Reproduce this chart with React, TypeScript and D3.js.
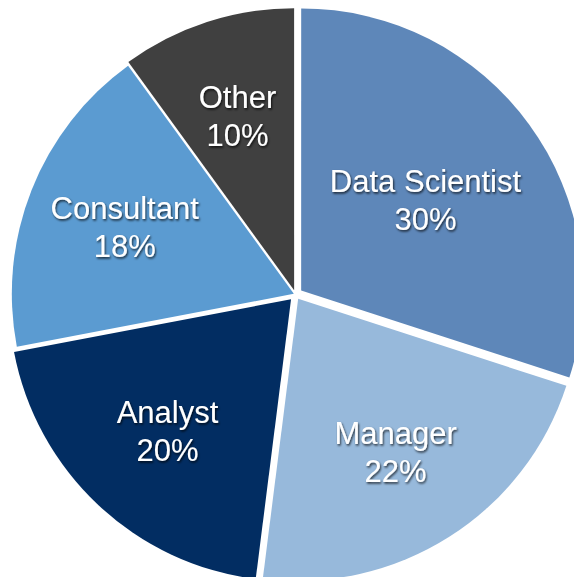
import React from "react";
import * as d3 from "d3";

const categories = ["Data Scientist", "Manager", "Analyst", "Consultant", "Other"];
const shares = [30, 22, 20, 18, 10];
const colors = ["#5e87b9", "#97b9db", "#022d62", "#5b9bd1", "#404040"];

const W = 574;
const H = 577;
const CX = 295.5;
const CY = 294.5;
const R = 282;
// explosion distance per slice (px), style only
const explode: Record<string, number> = {
  "Data Scientist": 7,
  Manager: 5,
  Analyst: 6.5,
  Consultant: 1.8,
  Other: 4.5,
};
const labelFrac: Record<string, number> = {
  "Data Scientist": 0.545,
  Manager: 0.645,
  Analyst: 0.64,
  Consultant: 0.645,
  Other: 0.65,
};

export default function App() {
  const data = categories.map((c, i) => ({ name: c, value: shares[i], color: colors[i] }));
  const pie = d3
    .pie<{ name: string; value: number; color: string }>()
    .sort(null)
    .value((d) => d.value)
    .startAngle(0)
    .endAngle(2 * Math.PI);
  const arcs = pie(data);
  const arc = d3.arc<d3.PieArcDatum<any>>().innerRadius(0).outerRadius(R);

  return (
    <svg
      width={W}
      height={H}
      style={{ position: "absolute", left: 0, top: 0, background: "#fff" }}
      fontFamily="'Liberation Sans', Arial, Helvetica, sans-serif"
    >
      <defs>
        <filter id="sh" x="-20%" y="-20%" width="140%" height="140%">
          <feDropShadow dx="1" dy="1.6" stdDeviation="1.3" floodColor="#000" floodOpacity="0.75" />
        </filter>
      </defs>
      <g transform={`translate(${CX},${CY})`}>
        {arcs.map((a) => {
          const mid = (a.startAngle + a.endAngle) / 2;
          const d = explode[a.data.name] ?? 0;
          const ox = Math.sin(mid) * d;
          const oy = -Math.cos(mid) * d;
          return (
            <path
              key={a.data.name}
              d={arc(a) as string}
              fill={a.data.color}
              transform={`translate(${ox},${oy})`}
            />
          );
        })}
        {arcs.map((a) => {
          const mid = (a.startAngle + a.endAngle) / 2;
          const d = explode[a.data.name] ?? 0;
          const lr = (labelFrac[a.data.name] ?? 0.645) * R + d;
          const lx = Math.sin(mid) * lr;
          const ly = -Math.cos(mid) * lr;
          return (
            <text
              key={"t" + a.data.name}
              x={lx}
              y={ly}
              fill="#fff"
              fontSize={31}
              textAnchor="middle"
              filter="url(#sh)"
            >
              <tspan x={lx} y={ly - 8}>
                {a.data.name}
              </tspan>
              <tspan x={lx} y={ly + 30}>
                {`${a.data.value}%`}
              </tspan>
            </text>
          );
        })}
      </g>
    </svg>
  );
}
